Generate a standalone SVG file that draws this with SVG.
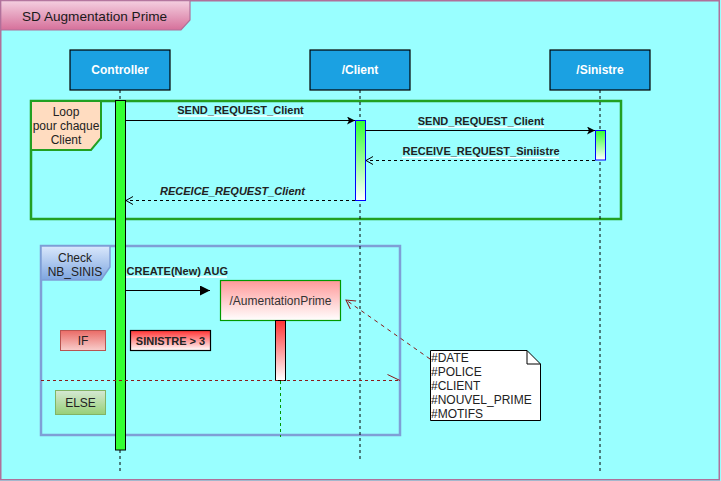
<svg xmlns="http://www.w3.org/2000/svg" width="721" height="481" viewBox="0 0 721 481">
<defs>
<style>
text{font-family:"Liberation Sans",Arial,sans-serif;}
.hdr{fill:#1ba1e2;stroke:#000;stroke-width:1.2;}
.hdrt{fill:#fff;font-size:12px;font-weight:bold;text-anchor:middle;}
.life{stroke:#000;stroke-width:1;stroke-dasharray:3 3;fill:none;}
.msg{fill:#222;font-size:11px;font-weight:bold;text-anchor:middle;}
.ul{stroke:#fff;stroke-width:1.5;}
.sol{stroke:#000;stroke-width:1;fill:none;}
.ret{stroke:#000;stroke-width:1;fill:none;stroke-dasharray:3 3;}
.lbl{fill:#222;font-size:12px;text-anchor:middle;}
.note{fill:#222;font-size:12px;}
</style>
<linearGradient id="gTitle" x1="0" y1="0" x2="0" y2="1"><stop offset="0" stop-color="#f4cfe0"/><stop offset="1" stop-color="#d6709a"/></linearGradient>
<linearGradient id="gGreen" x1="0" y1="0" x2="0" y2="1"><stop offset="0" stop-color="#33ff33"/><stop offset="1" stop-color="#ffffff"/></linearGradient>
<linearGradient id="gPink" x1="0" y1="0" x2="0" y2="1"><stop offset="0" stop-color="#ff9999"/><stop offset="1" stop-color="#ffffff"/></linearGradient>
<linearGradient id="gRed" x1="0" y1="0" x2="0" y2="1"><stop offset="0" stop-color="#ff3333"/><stop offset="1" stop-color="#ffffff"/></linearGradient>
<linearGradient id="gIf" x1="0" y1="0" x2="0" y2="1"><stop offset="0" stop-color="#ea6b66"/><stop offset="1" stop-color="#f8cecc"/></linearGradient>
<linearGradient id="gElse" x1="0" y1="0" x2="0" y2="1"><stop offset="0" stop-color="#d5e8d4"/><stop offset="1" stop-color="#97d077"/></linearGradient>
<linearGradient id="gCheck" x1="0" y1="0" x2="0" y2="1"><stop offset="0" stop-color="#dae8fc"/><stop offset="1" stop-color="#7ea6e0"/></linearGradient>
<marker id="aFill" markerUnits="userSpaceOnUse" markerWidth="10" markerHeight="10" refX="8" refY="4" orient="auto"><path d="M0,0 L8,4 L0,8 L2,4 Z" fill="#000"/></marker>
<marker id="aBlock" markerUnits="userSpaceOnUse" markerWidth="12" markerHeight="12" refX="10" refY="5" orient="auto"><path d="M0,0 L10,5 L0,10 Z" fill="#000"/></marker>
<marker id="aOpen" markerUnits="userSpaceOnUse" markerWidth="10" markerHeight="10" refX="7" refY="4" orient="auto"><path d="M0,0 L7,4 L0,8" fill="none" stroke="#000" stroke-width="1"/></marker>
<marker id="aOpenR" markerUnits="userSpaceOnUse" markerWidth="12" markerHeight="12" refX="9" refY="5" orient="auto"><path d="M0,0 L9,5 L0,10" fill="none" stroke="#8b1a1a" stroke-width="1"/></marker>
</defs>
<rect x="0" y="0" width="721" height="481" fill="#99ffff"/>
<g id="frame">
<rect x="0.75" y="0.75" width="718.5" height="479" fill="none" stroke="#b0709a" stroke-width="1.5"/>
<path d="M0.75,0.75 L190,0.75 L190,20 L181,30 L0.75,30 Z" fill="url(#gTitle)" stroke="#b0709a" stroke-width="1.2"/>
<text x="22" y="20.5" font-size="13.6" fill="#1a1a1a">SD Augmentation Prime</text>
</g>
<g id="loop">
<rect x="31" y="101" width="590" height="118" fill="none" stroke="#22a022" stroke-width="2.5"/>
<path d="M31,101 L101,101 L101,138 L91,150 L31,150 Z" fill="#ffdcc0" stroke="#22a022" stroke-width="2"/>
<text class="lbl" x="66" y="116">Loop</text>
<text class="lbl" x="66" y="130">pour chaque</text>
<text class="lbl" x="66" y="144">Client</text>
</g>
<g id="check">
<rect x="41" y="246" width="359" height="189" fill="none" stroke="#7f9fd6" stroke-width="2.5"/>
<path d="M41,246 L110,246 L110,267 L101,280 L41,280 Z" fill="url(#gCheck)" stroke="#7f9fd6" stroke-width="1.5"/>
<text class="lbl" x="75" y="261.5">Check</text>
<text class="lbl" x="75" y="275.5">NB_SINIS</text>
</g>
<g id="lifelines">
<line class="life" x1="120" y1="90" x2="120" y2="471"/>
<line class="life" x1="360" y1="90" x2="360" y2="459"/>
<line class="life" x1="600" y1="90" x2="600" y2="471"/>
</g>
<g id="controller">
<rect class="hdr" x="70" y="50" width="100" height="40"/>
<text class="hdrt" x="120" y="74">Controller</text>
<rect x="115.5" y="100.5" width="10" height="349.5" fill="#33ff33" stroke="#000" stroke-width="1"/>
</g>
<g id="client">
<rect class="hdr" x="310" y="50" width="100" height="40"/>
<text class="hdrt" x="360" y="74">/Client</text>
<rect x="355.5" y="120.5" width="10" height="80" fill="url(#gGreen)" stroke="#0000ff" stroke-width="1"/>
</g>
<g id="sinistre">
<rect class="hdr" x="550" y="50" width="100" height="40"/>
<text class="hdrt" x="600" y="74">/Sinistre</text>
<rect x="595.5" y="130.5" width="10" height="29.5" fill="url(#gGreen)" stroke="#0000ff" stroke-width="1"/>
</g>
<g id="aumentationPrime">
<rect x="220.5" y="280.5" width="120" height="40" fill="url(#gPink)" stroke="#009900" stroke-width="1.2"/>
<text x="280.5" y="304.5" font-size="12" fill="#333" text-anchor="middle">/AumentationPrime</text>
<rect x="275.5" y="320.5" width="10" height="60" fill="url(#gRed)" stroke="#000" stroke-width="1"/>
<line x1="280.5" y1="381" x2="280.5" y2="437" stroke="#009900" stroke-width="1" stroke-dasharray="3 3"/>
</g>
<g id="if">
<rect x="60.5" y="330.5" width="45" height="20" fill="url(#gIf)" stroke="#b85450" stroke-width="1"/>
<text class="lbl" x="83" y="344.5">IF</text>
</g>
<g id="condition">
<rect x="130.5" y="330.5" width="80" height="20" fill="url(#gRed)" stroke="#000" stroke-width="1.2"/>
<text x="170.5" y="344.5" font-size="11" font-weight="bold" fill="#222" text-anchor="middle">SINISTRE &gt; 3</text>
</g>
<g id="else">
<rect x="55.5" y="390.5" width="50" height="24" fill="url(#gElse)" stroke="#82b366" stroke-width="1"/>
<text class="lbl" x="80.5" y="406.5">ELSE</text>
</g>
<g id="note">
<path d="M430.5,350.5 L527,350.5 L540.5,364 L540.5,420.5 L430.5,420.5 Z" fill="#fff" stroke="#000" stroke-width="1"/>
<path d="M527,350.5 L527,364 L540.5,364" fill="none" stroke="#000" stroke-width="1"/>
<text class="note" x="431" y="362">#DATE</text>
<text class="note" x="431" y="376">#POLICE</text>
<text class="note" x="431" y="390">#CLIENT</text>
<text class="note" x="431" y="404">#NOUVEL_PRIME</text>
<text class="note" x="431" y="418">#MOTIFS</text>
</g>
<g id="connectors">
<line class="sol" x1="125.5" y1="120.5" x2="355" y2="120.5" marker-end="url(#aFill)"/>
<line class="ul" x1="178" y1="116" x2="303" y2="116"/>
<text class="msg" x="240.5" y="113.5">SEND_REQUEST_Client</text>
<line class="sol" x1="365.5" y1="130.5" x2="595" y2="130.5" marker-end="url(#aFill)"/>
<line class="ul" x1="418" y1="127" x2="544" y2="127"/>
<text class="msg" x="481" y="125">SEND_REQUEST_Client</text>
<line class="ret" x1="595" y1="160.5" x2="366" y2="160.5" marker-end="url(#aOpen)"/>
<line class="ul" x1="402" y1="157.5" x2="559" y2="157.5"/>
<text class="msg" x="481" y="155">RECEIVE_REQUEST_Siniistre</text>
<line class="ret" x1="355" y1="200.5" x2="126" y2="200.5" marker-end="url(#aOpen)"/>
<text class="msg" x="232.5" y="194.5" font-style="italic">RECEICE_REQUEST_Client</text>
<line class="sol" x1="125.5" y1="290.5" x2="210" y2="290.5" marker-end="url(#aBlock)"/>
<line class="ul" x1="126" y1="277" x2="227" y2="277"/>
<text x="126.5" y="275" font-size="11" font-weight="bold" fill="#222">CREATE(New) AUG</text>
<line x1="41" y1="380.5" x2="400" y2="380.5" stroke="#8b1a1a" stroke-width="1" stroke-dasharray="3 3"/>
<line x1="387.5" y1="374.5" x2="400" y2="380.5" stroke="#8b1a1a" stroke-width="1"/>
<line x1="430" y1="359" x2="346" y2="300" stroke="#8b1a1a" stroke-width="1" stroke-dasharray="4 4" marker-end="url(#aOpenR)"/>
</g>
</svg>
